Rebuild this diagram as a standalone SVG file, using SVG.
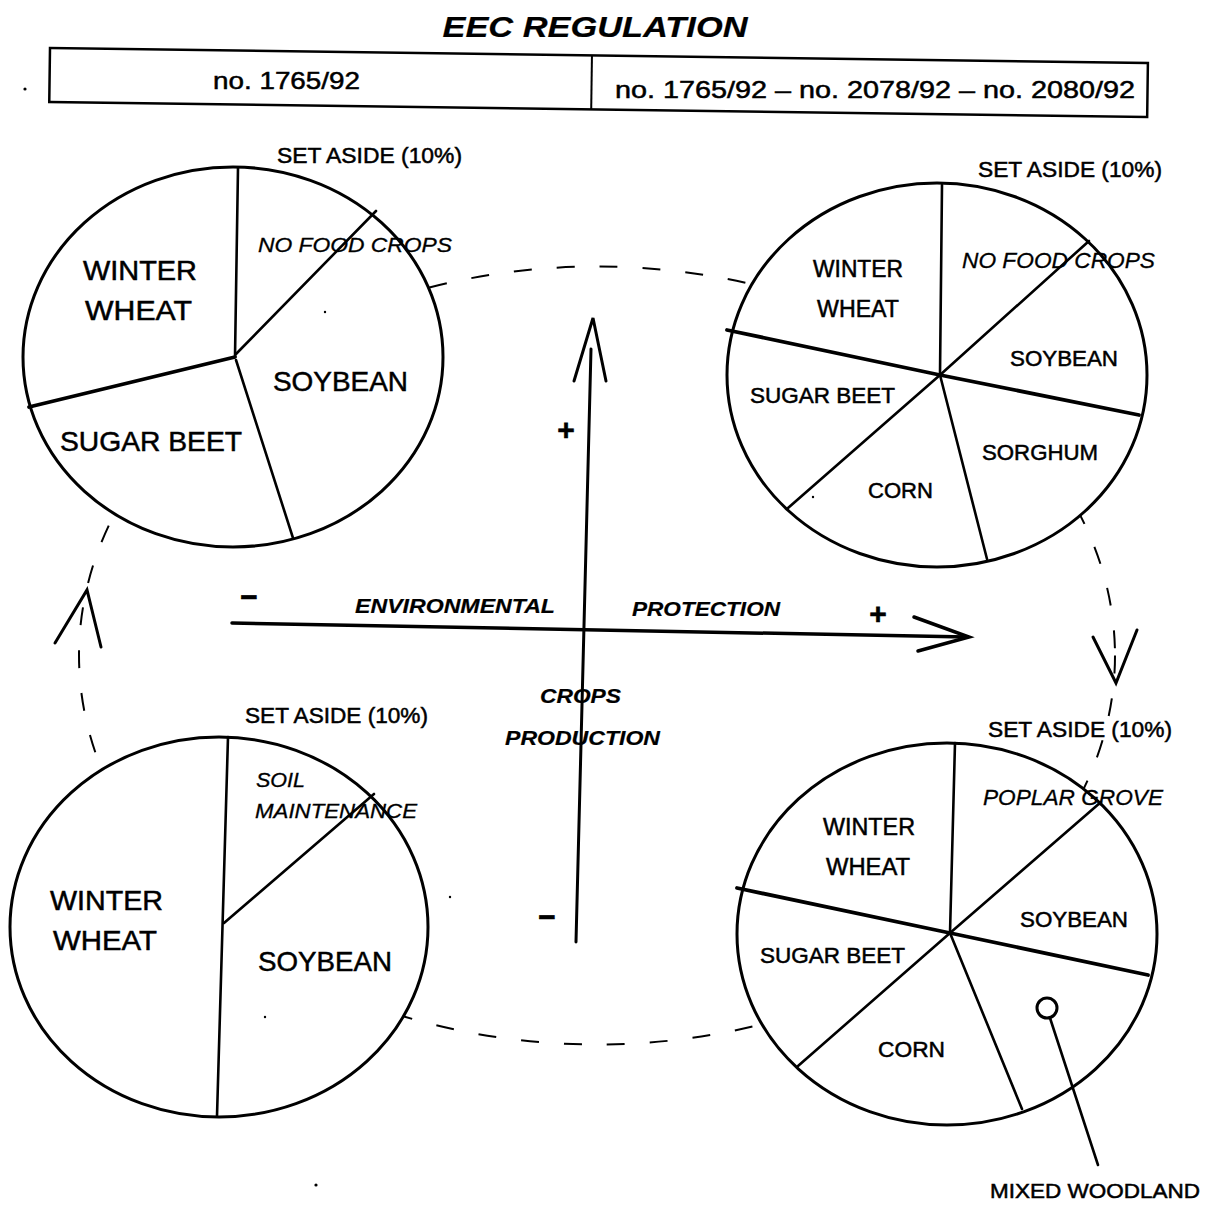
<svg xmlns="http://www.w3.org/2000/svg" width="1215" height="1205" viewBox="0 0 1215 1205">
<style>
text{font-family:"Liberation Sans",Arial,sans-serif;fill:#000;stroke:#000;stroke-width:0.5}
.lbl{font-size:22px}
.big{font-size:28px}
.it{font-style:italic;stroke-width:0.3}
.bi{font-style:italic;font-weight:bold;stroke-width:0.2}
.sg{font-weight:bold;stroke-width:0.6}
.pie{fill:#fff;stroke:#000;stroke-width:3}
.sp{stroke:#000;stroke-width:2.6;fill:none;stroke-linecap:round}
.thk{stroke-width:3.8}
.ar{stroke:#000;stroke-width:3;fill:none;stroke-linecap:round;stroke-linejoin:miter}
.dash{fill:none;stroke:#000;stroke-width:2;stroke-dasharray:18 25}
.dot{fill:#000}
</style>
<rect width="1215" height="1205" fill="#fff"/>

<g id="header">
<text x="595" y="37" text-anchor="middle" class="bi" font-size="29" textLength="305" lengthAdjust="spacingAndGlyphs">EEC REGULATION</text>
<g transform="rotate(0.78 50 48)">
<rect x="50" y="48" width="1098" height="54" fill="none" stroke="#000" stroke-width="2.5"/>
<line x1="592" y1="48" x2="592" y2="102" stroke="#000" stroke-width="2"/>
</g>
<text x="213" y="89" font-size="24" textLength="147" lengthAdjust="spacingAndGlyphs">no. 1765/92</text>
<text x="615" y="98" font-size="24" textLength="520" lengthAdjust="spacingAndGlyphs">no. 1765/92 – no. 2078/92 – no. 2080/92</text>
<circle class="dot" cx="25" cy="89" r="1.6"/>
</g>

<g id="connectors">
<ellipse class="dash" cx="597" cy="655.5" rx="518" ry="389"/>
<!-- environmental protection arrow -->
<line class="ar" x1="232" y1="623" x2="967" y2="637" style="stroke-width:3.5"/>
<polyline class="ar" points="914,617 969,637 918,651" style="stroke-width:3.5"/>
<!-- crops production arrow -->
<line class="ar" x1="591" y1="349" x2="576" y2="942"/>
<polyline class="ar" points="574,381 593,318 606,381"/>
<!-- cycle arrowheads -->
<polyline class="ar" points="55,643 87,590 101,647"/>
<polyline class="ar" points="1093,637 1116,683 1137,630"/>
</g>

<g id="axis-labels">
<text x="249" y="607" text-anchor="middle" class="sg" font-size="30">−</text>
<text x="878" y="624" text-anchor="middle" class="sg" font-size="30">+</text>
<text x="355" y="613" class="bi" font-size="20" textLength="200" lengthAdjust="spacingAndGlyphs">ENVIRONMENTAL</text>
<text x="632" y="616" class="bi" font-size="20" textLength="148" lengthAdjust="spacingAndGlyphs">PROTECTION</text>
<text x="566" y="440" text-anchor="middle" class="sg" font-size="30">+</text>
<text x="547" y="927" text-anchor="middle" class="sg" font-size="30">−</text>
<text x="540" y="703" class="bi" font-size="20" textLength="81" lengthAdjust="spacingAndGlyphs">CROPS</text>
<text x="505" y="745" class="bi" font-size="20" textLength="155" lengthAdjust="spacingAndGlyphs">PRODUCTION</text>
</g>

<g id="pie-top-left">
<ellipse class="pie" cx="233" cy="357" rx="210" ry="190"/>
<line class="sp" x1="235" y1="357" x2="238" y2="168"/>
<line class="sp" x1="236" y1="354" x2="376" y2="211"/>
<line class="sp thk" x1="235" y1="357" x2="29" y2="407"/>
<line class="sp" x1="236" y1="360" x2="293" y2="538"/>
<text x="277" y="163" class="lbl" textLength="185" lengthAdjust="spacingAndGlyphs">SET ASIDE (10%)</text>
<text x="258" y="252" class="it" font-size="21" textLength="194" lengthAdjust="spacingAndGlyphs">NO FOOD CROPS</text>
<text x="83" y="280" class="big" textLength="114" lengthAdjust="spacingAndGlyphs">WINTER</text>
<text x="85" y="320" class="big" textLength="107" lengthAdjust="spacingAndGlyphs">WHEAT</text>
<text x="273" y="391" class="big" textLength="135" lengthAdjust="spacingAndGlyphs">SOYBEAN</text>
<text x="60" y="451" class="big" textLength="182" lengthAdjust="spacingAndGlyphs">SUGAR BEET</text>
<circle class="dot" cx="325" cy="312" r="1.2"/>
</g>

<g id="pie-top-right">
<ellipse class="pie" cx="937" cy="375" rx="210" ry="192"/>
<line class="sp" x1="940" y1="375" x2="942" y2="185"/>
<line class="sp thk" x1="940" y1="375" x2="727" y2="330"/>
<line class="sp thk" x1="940" y1="375" x2="1139" y2="415"/>
<line class="sp" x1="940" y1="375" x2="1089" y2="241"/>
<line class="sp" x1="940" y1="375" x2="788" y2="508"/>
<line class="sp" x1="940" y1="375" x2="987" y2="559"/>
<text x="978" y="177" class="lbl" textLength="184" lengthAdjust="spacingAndGlyphs">SET ASIDE (10%)</text>
<text x="962" y="268" class="lbl it" textLength="193" lengthAdjust="spacingAndGlyphs">NO FOOD CROPS</text>
<text x="813" y="277" font-size="23" textLength="90" lengthAdjust="spacingAndGlyphs">WINTER</text>
<text x="817" y="317" font-size="23" textLength="82" lengthAdjust="spacingAndGlyphs">WHEAT</text>
<text x="1010" y="366" class="lbl" textLength="108" lengthAdjust="spacingAndGlyphs">SOYBEAN</text>
<text x="750" y="403" class="lbl" textLength="145" lengthAdjust="spacingAndGlyphs">SUGAR BEET</text>
<text x="982" y="460" class="lbl" textLength="116" lengthAdjust="spacingAndGlyphs">SORGHUM</text>
<text x="868" y="498" class="lbl" textLength="65" lengthAdjust="spacingAndGlyphs">CORN</text>
<circle class="dot" cx="813" cy="497" r="1.2"/>
</g>

<g id="pie-bottom-left">
<ellipse class="pie" cx="219" cy="927" rx="209" ry="190"/>
<line class="sp" x1="228" y1="737" x2="217" y2="1116"/>
<line class="sp" x1="224" y1="923" x2="374" y2="794"/>
<text x="245" y="723" class="lbl" textLength="183" lengthAdjust="spacingAndGlyphs">SET ASIDE (10%)</text>
<text x="256" y="787" class="it" font-size="20" textLength="49" lengthAdjust="spacingAndGlyphs">SOIL</text>
<text x="255" y="818" class="it" font-size="20" textLength="162" lengthAdjust="spacingAndGlyphs">MAINTENANCE</text>
<text x="50" y="910" class="big" textLength="113" lengthAdjust="spacingAndGlyphs">WINTER</text>
<text x="53" y="950" class="big" textLength="104" lengthAdjust="spacingAndGlyphs">WHEAT</text>
<text x="258" y="971" class="big" textLength="134" lengthAdjust="spacingAndGlyphs">SOYBEAN</text>
<circle class="dot" cx="450" cy="897" r="1.2"/>
<circle class="dot" cx="265" cy="1017" r="1.2"/>
</g>

<g id="pie-bottom-right">
<ellipse class="pie" cx="947" cy="934" rx="210" ry="191"/>
<line class="sp" x1="950" y1="933" x2="955" y2="743"/>
<line class="sp thk" x1="950" y1="933" x2="737" y2="888"/>
<line class="sp thk" x1="950" y1="933" x2="1148" y2="975"/>
<line class="sp" x1="950" y1="933" x2="1101" y2="802"/>
<line class="sp" x1="950" y1="933" x2="798" y2="1066"/>
<line class="sp" x1="950" y1="933" x2="1022" y2="1109"/>
<text x="988" y="737" class="lbl" textLength="184" lengthAdjust="spacingAndGlyphs">SET ASIDE (10%)</text>
<text x="983" y="805" class="lbl it" textLength="180" lengthAdjust="spacingAndGlyphs">POPLAR GROVE</text>
<text x="823" y="835" font-size="23" textLength="92" lengthAdjust="spacingAndGlyphs">WINTER</text>
<text x="826" y="875" font-size="23" textLength="84" lengthAdjust="spacingAndGlyphs">WHEAT</text>
<text x="1020" y="927" class="lbl" textLength="108" lengthAdjust="spacingAndGlyphs">SOYBEAN</text>
<text x="760" y="963" class="lbl" textLength="145" lengthAdjust="spacingAndGlyphs">SUGAR BEET</text>
<text x="878" y="1057" class="lbl" textLength="67" lengthAdjust="spacingAndGlyphs">CORN</text>
</g>

<g id="mixed-woodland">
<circle cx="1047" cy="1008" r="10" fill="#fff" stroke="#000" stroke-width="3"/>
<line class="sp" x1="1050" y1="1018" x2="1098" y2="1165"/>
<text x="990" y="1198" font-size="21" textLength="210" lengthAdjust="spacingAndGlyphs">MIXED WOODLAND</text>
</g>

<circle class="dot" cx="316" cy="1185" r="1.6"/>
</svg>
